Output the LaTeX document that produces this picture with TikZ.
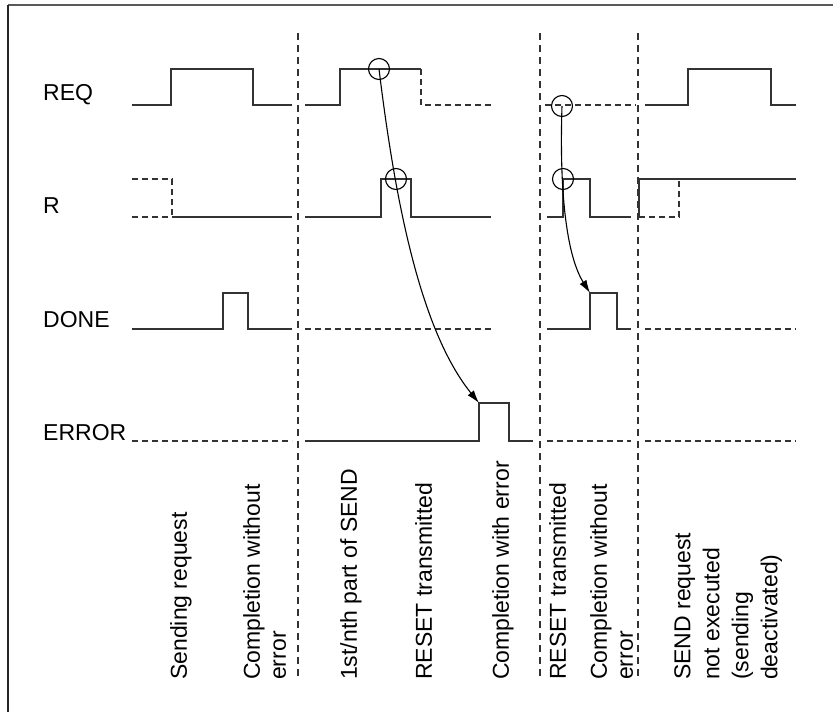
\documentclass[tikz,border=0pt]{standalone}
\usepackage{fontspec}
\setmainfont{Liberation Sans}
\usetikzlibrary{arrows.meta}
\begin{document}
\begin{tikzpicture}[x=1pt,y=-1pt,
  sig/.style={draw=black!80, line width=1.4pt},
  sigdash/.style={sig, dash pattern=on 6pt off 4pt},
  sep/.style={draw=black!80, line width=1.5pt, dash pattern=on 7pt off 5pt},
  lbl/.style={font=\fontsize{23}{26}\selectfont, inner sep=0pt, anchor=base west},
  vtxt/.style={font=\fontsize{23}{26}\selectfont, inner sep=0pt, rotate=90, anchor=north west, align=left},
  vtxtwide/.style={vtxt, font=\fontsize{23}{29}\selectfont},
  ring/.style={circle, draw=black, line width=1.1pt, minimum size=21pt, inner sep=0pt},
  cause/.style={draw=black, line width=1.1pt, -{Latex[length=13pt,width=8pt]}}
]
\useasboundingbox (0,0) rectangle (833,712);
% frame
\draw[line width=2pt, draw=black!65] (8,5) -- (833,5);
\draw[line width=2pt, draw=black!85] (8,5) -- (8,712);

% separators
\draw[sep] (298,33) -- (298,678);
\draw[sep] (540,33) -- (540,678);
\draw[sep] (638,33) -- (638,678);

% labels
\node[lbl] (lreq) at (43,100) {REQ};
\node[lbl] (lr) at (43,213) {R};
\node[lbl] (ldone) at (43,327) {DONE};
\node[lbl] (lerr) at (43,440) {ERROR};

% REQ
\draw[sig] (132,105) -- (171,105) -- (171,69) -- (253,69) -- (253,105) -- (292,105);
\draw[sig] (305,105) -- (340,105) -- (340,69) -- (421,69);
\draw[sigdash] (421,69) -- (421,105) -- (491,105);
\draw[sigdash] (545,105) -- (636,105);
\draw[sig] (645,105) -- (688,105) -- (688,69) -- (771,69) -- (771,105) -- (796,105);

% R
\draw[sigdash] (132,179) -- (172,179) -- (172,217);
\draw[sigdash] (132,217) -- (172,217);
\draw[sig] (172,217) -- (292,217);
\draw[sig] (305,217) -- (381,217) -- (381,179) -- (411,179) -- (411,217) -- (491,217);
\draw[sig] (547,217) -- (563,217) -- (563,179) -- (590,179) -- (590,217) -- (631,217);
\draw[sigdash] (639,217) -- (679,217) -- (679,179);
\draw[sig] (639,217) -- (639,179) -- (796,179);

% DONE
\draw[sig] (132,329) -- (223,329) -- (223,293) -- (248,293) -- (248,329) -- (292,329);
\draw[sigdash] (305,329) -- (491,329);
\draw[sig] (547,329) -- (590,329) -- (590,293) -- (617,293) -- (617,329) -- (631,329);
\draw[sigdash] (645,329) -- (796,329);

% ERROR
\draw[sigdash] (132,441) -- (292,441);
\draw[sig] (305,441) -- (479,441) -- (479,403) -- (509,403) -- (509,441) -- (533,441);
\draw[sigdash] (547,441) -- (631,441);
\draw[sigdash] (645,441) -- (796,441);

% rings and causal arrows
\node[ring] (c1) at (379,69) {};
\node[ring] (c2) at (396,179) {};
\node[ring] (c3) at (562,106) {};
\node[ring] (c4) at (563,179) {};
\coordinate (e1) at (479,403);
\coordinate (d1) at (590,293);
\draw[cause] (c1.center) .. controls (395,200) and (420,330) .. (e1);
\draw[cause] (c3.center) .. controls (559,200) and (568,258) .. (d1);

% bottom texts
\node[vtxt] (t1) at (170,680) {Sending request};
\node[vtxt] (t2) at (243,680) {Completion without\\error};
\node[vtxt] (t3) at (340,680) {1st/nth part of SEND};
\node[vtxt] (t4) at (415,680) {RESET transmitted};
\node[vtxt] (t5) at (492,680) {Completion with error};
\node[vtxt] (t6) at (549,680) {RESET transmitted};
\node[vtxt] (t7) at (590,680) {Completion without\\error};
\node[vtxtwide] (t8) at (674,680) {SEND request\\not executed\\(sending\\deactivated)};
\end{tikzpicture}
\end{document}
